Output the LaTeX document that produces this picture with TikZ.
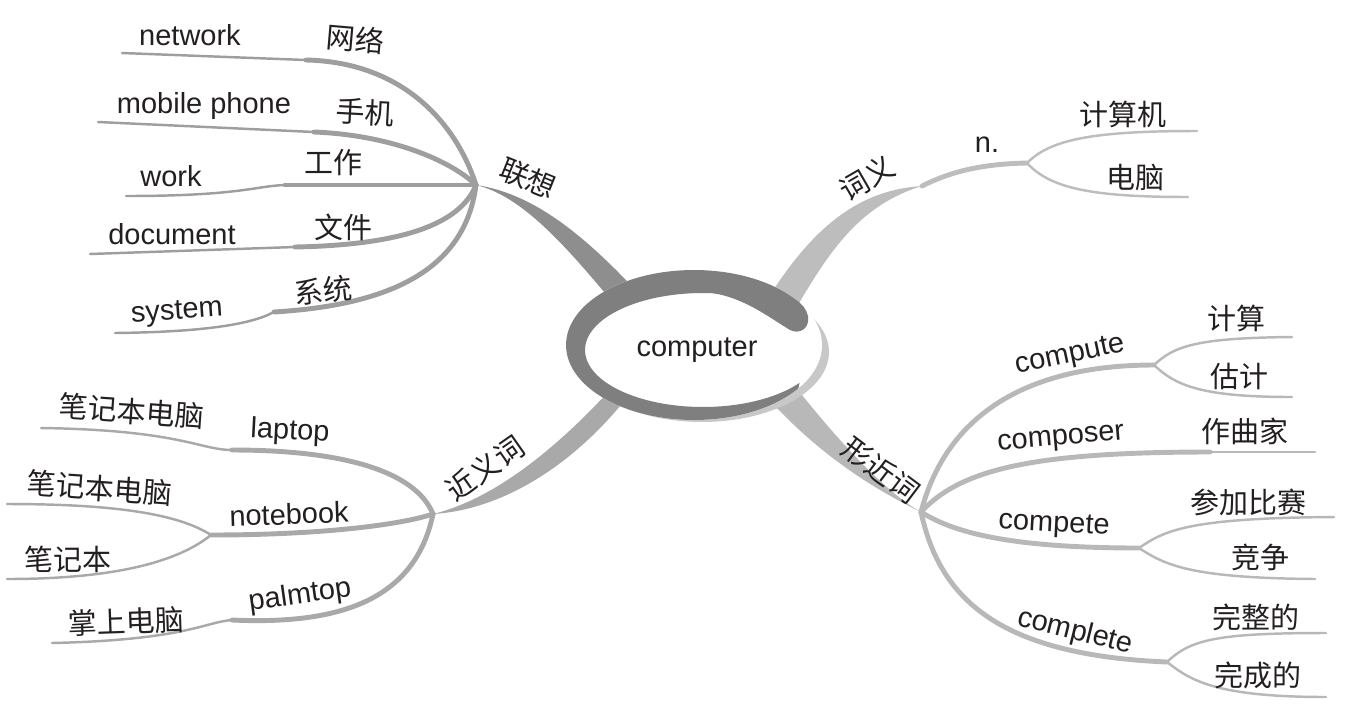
\documentclass[tikz,border=0pt]{standalone}
\usepackage{fontspec}
\setmainfont{Liberation Sans}
\newfontfamily\cjk{Noto Sans CJK SC}

\definecolor{ink}{HTML}{231F20}
\definecolor{swirl}{HTML}{7F7F7F}
\definecolor{rim}{HTML}{C8C8C8}
\definecolor{assoc}{HTML}{8E8E8E}
\definecolor{assocsub}{HTML}{9E9E9E}
\definecolor{meaning}{HTML}{BDBDBD}
\definecolor{synonym}{HTML}{A9A9A9}
\definecolor{similar}{HTML}{B8B8B8}

\tikzset{
    word/.style={font=\fontsize{16.5}{18}\selectfont, text=ink, inner sep=0pt},
    cn/.style={word, font=\fontsize{16.5}{18}\selectfont\cjk},
    twig/.style={line width=2.8pt, line cap=round},
    leaf/.style={line width=1.4pt, line cap=round}
}

\begin{document}
\begin{tikzpicture}[x=0.02cm, y=-0.02cm]
    \useasboundingbox (0,0) rectangle (1348,714);
    % hubs and line ends
    \coordinate (assoc-hub) at (476,185);
    \coordinate (net-knee) at (306,60);      \coordinate (net-end) at (122,53);
    \coordinate (phone-knee) at (314,132);   \coordinate (phone-end) at (98,122);
    \coordinate (work-knee) at (285,185);    \coordinate (work-end) at (126,196);
    \coordinate (doc-knee) at (295,247);     \coordinate (doc-end) at (90,254);
    \coordinate (sys-knee) at (274,312);     \coordinate (sys-end) at (115,333);
    \coordinate (meaning-hub) at (922,186);
    \coordinate (noun-hub) at (1027,163);
    \coordinate (calc-end) at (1197,131);    \coordinate (pc-end) at (1188,197);
    \coordinate (syn-hub) at (433,514);
    \coordinate (laptop-knee) at (232,450);  \coordinate (laptop-end) at (41,428);
    \coordinate (notebook-hub) at (211,535);
    \coordinate (nb1-end) at (7,504);        \coordinate (nb2-end) at (7,579);
    \coordinate (palmtop-knee) at (232,620); \coordinate (palmtop-end) at (52,643);
    \coordinate (sim-hub) at (921,512);
    \coordinate (compute-hub) at (1154,365);
    \coordinate (jisuan-end) at (1292,337);  \coordinate (guji-end) at (1292,397);
    \coordinate (composer-knee) at (1210,452); \coordinate (composer-end) at (1315,452);
    \coordinate (compete-hub) at (1139,548);
    \coordinate (canjia-end) at (1334,517);  \coordinate (jingzheng-end) at (1315,579);
    \coordinate (complete-hub) at (1167,662);
    \coordinate (wanzheng-end) at (1326,633); \coordinate (wancheng-end) at (1326,697);

    % main boughs
    \fill[assoc] (assoc-hub) .. controls (530,193) and (580,230) .. (640,295)
        -- (615,305) .. controls (565,245) and (522,196) .. (assoc-hub) -- cycle;
    \fill[meaning] (meaning-hub) .. controls (860,190) and (815,225) .. (770,295)
        -- (795,310) .. controls (830,250) and (860,205) .. (meaning-hub) -- cycle;
    \fill[synonym] (syn-hub) .. controls (490,500) and (550,455) .. (610,390)
        -- (625,400) .. controls (570,468) and (500,510) .. (syn-hub) -- cycle;
    \fill[similar] (sim-hub) .. controls (890,495) and (845,450) .. (790,380)
        -- (765,395) .. controls (805,440) and (855,480) .. (sim-hub) -- cycle;

    % 联想
    \draw[twig, assocsub] (assoc-hub) .. controls (455,120) and (400,62) .. (net-knee);
    \draw[leaf, assocsub] (net-knee) -- (net-end);
    \draw[twig, assocsub] (assoc-hub) .. controls (450,160) and (390,135) .. (phone-knee);
    \draw[leaf, assocsub] (phone-knee) -- (phone-end);
    \draw[twig, assocsub] (assoc-hub) -- (work-knee);
    \draw[leaf, assocsub] (work-knee) .. controls (255,186) and (240,196) .. (work-end);
    \draw[twig, assocsub] (assoc-hub) .. controls (460,225) and (400,245) .. (doc-knee);
    \draw[leaf, assocsub] (doc-knee) -- (doc-end);
    \draw[twig, assocsub] (assoc-hub) .. controls (465,270) and (390,305) .. (sys-knee);
    \draw[leaf, assocsub] (sys-knee) .. controls (250,325) and (200,332) .. (sys-end);

    % 词义
    \draw[twig, meaning] (meaning-hub) .. controls (950,172) and (980,164) .. (noun-hub);
    \draw[leaf, meaning] (noun-hub) .. controls (1050,140) and (1090,131) .. (calc-end);
    \draw[leaf, meaning] (noun-hub) .. controls (1050,188) and (1090,197) .. (pc-end);

    % 近义词
    \draw[twig, synonym] (syn-hub) .. controls (415,470) and (340,450) .. (laptop-knee);
    \draw[leaf, synonym] (laptop-knee) .. controls (200,450) and (180,430) .. (laptop-end);
    \draw[twig, synonym] (syn-hub) .. controls (400,525) and (320,535) .. (notebook-hub);
    \draw[leaf, synonym] (notebook-hub) .. controls (180,515) and (120,504) .. (nb1-end);
    \draw[leaf, synonym] (notebook-hub) .. controls (180,560) and (120,579) .. (nb2-end);
    \draw[twig, synonym] (syn-hub) .. controls (415,600) and (340,625) .. (palmtop-knee);
    \draw[leaf, synonym] (palmtop-knee) .. controls (205,622) and (185,640) .. (palmtop-end);

    % 形近词
    \draw[twig, similar] (sim-hub) .. controls (945,420) and (1020,365) .. (compute-hub);
    \draw[leaf, similar] (compute-hub) .. controls (1175,345) and (1200,338) .. (jisuan-end);
    \draw[leaf, similar] (compute-hub) .. controls (1175,385) and (1200,397) .. (guji-end);
    \draw[twig, similar] (sim-hub) .. controls (960,470) and (1030,452) .. (composer-knee);
    \draw[leaf, similar] (composer-knee) -- (composer-end);
    \draw[twig, similar] (sim-hub) .. controls (950,530) and (1000,548) .. (compete-hub);
    \draw[leaf, similar] (compete-hub) .. controls (1165,530) and (1190,518) .. (canjia-end);
    \draw[leaf, similar] (compete-hub) .. controls (1165,565) and (1190,578) .. (jingzheng-end);
    \draw[twig, similar] (sim-hub) .. controls (940,600) and (1000,655) .. (complete-hub);
    \draw[leaf, similar] (complete-hub) .. controls (1190,640) and (1215,633) .. (wanzheng-end);
    \draw[leaf, similar] (complete-hub) .. controls (1190,680) and (1215,697) .. (wancheng-end);

    % centre swirl
    \fill[rim] (702,352) ellipse [x radius=2.54cm, y radius=1.4cm];
    \fill[white] (694,345) ellipse [x radius=2.56cm, y radius=1.5cm];
    \begin{scope}
        \clip (550,240) -- (800,240) -- (800,380) -- (792,425) -- (550,425) -- cycle;
        \fill[swirl, even odd rule] (694,345) ellipse [x radius=2.56cm, y radius=1.5cm]
            (703,350) ellipse [x radius=2.36cm, y radius=1.14cm];
    \end{scope}
    \fill[swirl] (712,282) -- (712,293) .. controls (745,298) and (770,318) .. (790,330)
        .. controls (800,335) and (810,328) .. (808,316)
        .. controls (805,302) and (790,296) .. (775,291) -- cycle;
    \node[word] (computer) at (697,350) {computer};

    % labels
    \node[word] (network) at (190,35) {network};
    \node[cn, rotate=-5] (wangluo) at (355,39) {网络};
    \node[word] (mobile) at (204,106) {mobile phone};
    \node[cn, rotate=-3] (shouji) at (365,112) {手机};
    \node[word] (work) at (171,176) {work};
    \node[cn] (gongzuo) at (333,163) {工作};
    \node[word] (document) at (172,234) {document};
    \node[cn] (wenjian) at (343,227) {文件};
    \node[word, rotate=4] (system) at (177,313) {system};
    \node[cn, rotate=6] (xitong) at (323,290) {系统};
    \node[cn, rotate=-22] (lianxiang) at (528,178) {联想};

    \node[cn, rotate=30] (ciyi) at (867,178) {词义};
    \node[word] (noun) at (987,145) {n.};
    \node[cn] (jisuanji) at (1123,114) {计算机};
    \node[cn] (diannao) at (1135,178) {电脑};

    \node[cn, rotate=35] (jinyici) at (485,468) {近义词};
    \node[cn, rotate=-4] (bijiben-a) at (132,411) {笔记本电脑};
    \node[word, rotate=-3] (laptop) at (290,432) {laptop};
    \node[cn, rotate=-4] (bijiben-b) at (100,488) {笔记本电脑};
    \node[word, rotate=2] (notebook) at (289,514) {notebook};
    \node[cn] (bijiben-c) at (68,559) {笔记本};
    \node[word, rotate=8] (palmtop) at (300,596) {palmtop};
    \node[cn, rotate=2] (zhangshang) at (126,622) {掌上电脑};

    \node[cn, rotate=-37] (xingjinci) at (881,470) {形近词};
    \node[word, rotate=12] (compute) at (1070,356) {compute};
    \node[cn] (jisuan) at (1236,318) {计算};
    \node[cn] (guji) at (1239,376) {估计};
    \node[word, rotate=5] (composer) at (1061,440) {composer};
    \node[cn] (zuoqujia) at (1245,431) {作曲家};
    \node[word, rotate=-3] (compete) at (1054,525) {compete};
    \node[cn] (canjia) at (1248,502) {参加比赛};
    \node[cn] (jingzheng) at (1260,557) {竞争};
    \node[word, rotate=-14] (complete) at (1075,632) {complete};
    \node[cn] (wanzheng) at (1256,617) {完整的};
    \node[cn] (wancheng) at (1258,675) {完成的};
\end{tikzpicture}
\end{document}
